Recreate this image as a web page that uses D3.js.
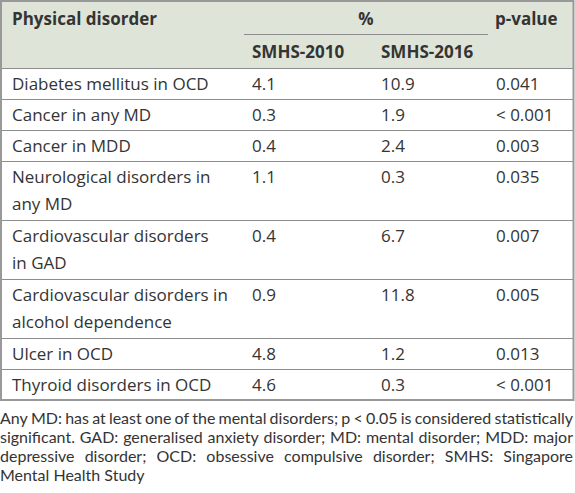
<!DOCTYPE html>
<html>
<head>
<meta charset="utf-8">
<script src="https://cdn.jsdelivr.net/npm/d3@7"></script>
<style>
  html, body { margin: 0; padding: 0; background: #ffffff; }
  svg { display: block; }
  text { font-family: "Open Sans", Lato, sans-serif; fill: #343434; }
  .fn text { font-family: Lato, "Open Sans", sans-serif; }
</style>
</head>
<body>
<script>
// ---- data ----
const disorders = [
  "Diabetes mellitus in OCD",
  "Cancer in any MD",
  "Cancer in MDD",
  "Neurological disorders in\nany MD",
  "Cardiovascular disorders\nin GAD",
  "Cardiovascular disorders in\nalcohol dependence",
  "Ulcer in OCD",
  "Thyroid disorders in OCD"
];
const smhs2010 = [4.1, 0.3, 0.4, 1.1, 0.4, 0.9, 4.8, 4.6];
const smhs2016 = [10.9, 1.9, 2.4, 0.3, 6.7, 11.8, 1.2, 0.3];
const pValues = ["0.041", "< 0.001", "0.003", "0.035", "0.007", "0.005", "0.013", "< 0.001"];
const headerTop = ["Physical disorder", "%", "p-value"];
const headerSub = ["SMHS-2010", "SMHS-2016"];
const footnote = [
  "Any MD: has at least one of the mental disorders; p < 0.05 is considered statistically",
  "significant. GAD: generalised anxiety disorder; MD: mental disorder; MDD: major",
  "depressive disorder; OCD: obsessive compulsive disorder; SMHS: Singapore",
  "Mental Health Study"
];

// ---- layout ----
const W = 575, H = 493;
const tableLeft = 1, tableRight = 573.5, tableTop = 1;
const headerBottom = 68;
const singleRowH = 31, lineStep = 27, fs = 17;
const colX = [12, 252, 381, 496];
const fmt = d3.format(".1f");

const svg = d3.select("body").append("svg").attr("width", W).attr("height", H);

// row geometry
const lines = disorders.map(d => d.split("\n"));
const heights = lines.map(l => singleRowH + (l.length - 1) * 28);
const tops = [];
heights.reduce((acc, h) => { tops.push(acc); return acc + h; }, headerBottom);
const tableBottom = tops[tops.length - 1] + heights[heights.length - 1];

// header background
svg.append("rect").attr("x", tableLeft).attr("y", tableTop)
  .attr("width", tableRight - tableLeft).attr("height", headerBottom - tableTop)
  .attr("fill", "#dee4d7");

// header texts
const hdr = svg.append("g").attr("font-weight", "bold").attr("font-size", fs);
hdr.append("text").attr("x", colX[0]).attr("y", 25).text(headerTop[0]);
hdr.append("text").attr("x", 366).attr("y", 25).attr("text-anchor", "middle").text(headerTop[1]);
hdr.append("text").attr("x", colX[3] - 1).attr("y", 25).text(headerTop[2]);
hdr.append("text").attr("x", colX[1]).attr("y", 58).text(headerSub[0]);
hdr.append("text").attr("x", colX[2]).attr("y", 58).text(headerSub[1]);

// line under %
svg.append("line").attr("x1", 244).attr("x2", 488).attr("y1", 34.5).attr("y2", 34.5)
  .attr("stroke", "#8d8d8d").attr("stroke-width", 1);

// rows
const rows = svg.append("g").attr("font-size", fs);
disorders.forEach((d, i) => {
  const g = rows.append("g").attr("transform", `translate(0,${tops[i]})`);
  const t = g.append("text").attr("x", colX[0]).attr("y", 22);
  lines[i].forEach((ln, j) => {
    t.append("tspan").attr("x", colX[0]).attr("y", 22 + j * lineStep).text(ln);
  });
  g.append("text").attr("x", colX[1]).attr("y", 22).text(fmt(smhs2010[i]));
  g.append("text").attr("x", colX[2]).attr("y", 22).text(fmt(smhs2016[i]));
  g.append("text").attr("x", colX[3]).attr("y", 22).text(pValues[i]);
});

// horizontal rules
const rules = [headerBottom].concat(tops.slice(1));
svg.selectAll("line.rule").data(rules).join("line").attr("class", "rule")
  .attr("x1", tableLeft).attr("x2", tableRight)
  .attr("y1", d => d + 0.5).attr("y2", d => d + 0.5)
  .attr("stroke", "#8d8d8d").attr("stroke-width", 1);

// outer border
svg.append("rect").attr("x", tableLeft).attr("y", tableTop)
  .attr("width", tableRight - tableLeft).attr("height", tableBottom - tableTop)
  .attr("fill", "none").attr("stroke", "#999999").attr("stroke-width", 2);

// footnote (justified by word spacing)
const fn = svg.append("g").attr("class", "fn").attr("font-size", 16);
const fullW = 573;
footnote.forEach((ln, i) => {
  const y = tableBottom + 24 + i * 19;
  if (i === footnote.length - 1) {
    fn.append("text").attr("x", 0).attr("y", y).text(ln);
    return;
  }
  const words = ln.split(" ");
  const nodes = words.map(w => fn.append("text").attr("y", y).text(w));
  const widths = nodes.map(s => s.node().getComputedTextLength());
  let total = d3.sum(widths);
  let squeeze = 1;
  const minGap = 3;
  if (total + minGap * (words.length - 1) > fullW) {
    squeeze = (fullW - minGap * (words.length - 1)) / total;
    nodes.forEach((s, k) => { s.attr("textLength", widths[k] * squeeze).attr("lengthAdjust", "spacing"); });
  }
  const ws = widths.map(w => w * squeeze);
  const gap = (fullW - d3.sum(ws)) / (words.length - 1);
  let x = 0;
  nodes.forEach((s, k) => { s.attr("x", x); x += ws[k] + gap; });
});
</script>
</body>
</html>
